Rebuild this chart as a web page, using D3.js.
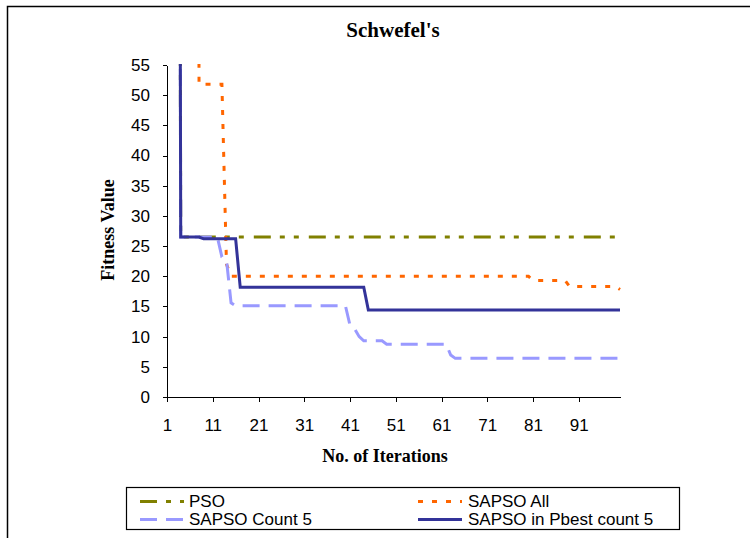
<!DOCTYPE html>
<html>
<head>
<meta charset="utf-8">
<script src="https://cdn.jsdelivr.net/npm/d3@7"></script>
<style>
  body { margin: 0; background: #fff; }
  svg { display: block; }
</style>
</head>
<body>
<div id="chart"></div>
<script>
// Values (350 = off the top of the axis, clipped)
var iterations = d3.range(1, 101);
var xTickLabels = [1, 11, 21, 31, 41, 51, 61, 71, 81, 91];
var yTickLabels = [0, 5, 10, 15, 20, 25, 30, 35, 40, 45, 50, 55];

var pso = [
  350, 350, 350, 26.5, 26.5, 26.5, 26.5, 26.5, 26.5, 26.5,
  26.5, 26.5, 26.5, 26.5, 26.5, 26.5, 26.5, 26.5, 26.5, 26.5,
  26.5, 26.5, 26.5, 26.5, 26.5, 26.5, 26.5, 26.5, 26.5, 26.5,
  26.5, 26.5, 26.5, 26.5, 26.5, 26.5, 26.5, 26.5, 26.5, 26.5,
  26.5, 26.5, 26.5, 26.5, 26.5, 26.5, 26.5, 26.5, 26.5, 26.5,
  26.5, 26.5, 26.5, 26.5, 26.5, 26.5, 26.5, 26.5, 26.5, 26.5,
  26.5, 26.5, 26.5, 26.5, 26.5, 26.5, 26.5, 26.5, 26.5, 26.5,
  26.5, 26.5, 26.5, 26.5, 26.5, 26.5, 26.5, 26.5, 26.5, 26.5,
  26.5, 26.5, 26.5, 26.5, 26.5, 26.5, 26.5, 26.5, 26.5, 26.5,
  26.5, 26.5, 26.5, 26.5, 26.5, 26.5, 26.5, 26.5, 26.5, 26.5
];

var sapsoAll = [
  350, 350, 350, 350, 350, 350, 350, 51.8, 51.8, 51.8,
  51.8, 51.8, 51.8, 22, 20, 20, 20, 20, 20, 20,
  20, 20, 20, 20, 20, 20, 20, 20, 20, 20,
  20, 20, 20, 20, 20, 20, 20, 20, 20, 20,
  20, 20, 20, 20, 20, 20, 20, 20, 20, 20,
  20, 20, 20, 20, 20, 20, 20, 20, 20, 20,
  20, 20, 20, 20, 20, 20, 20, 20, 20, 20,
  20, 20, 20, 20, 20, 20, 20, 20, 20, 20,
  19.3, 19.3, 19.3, 19.3, 19.3, 19.3, 19.3, 19.3, 18.3, 18.3,
  18.3, 18.3, 18.3, 18.3, 18.3, 18.3, 18.3, 18.3, 18.3, 17.8
];

var sapsoCount5 = [
  350, 350, 350, 26.5, 26.5, 26.5, 26.5, 26.5, 26.5, 26.5,
  26.5, 26.5, 23.2, 22.7, 15.6, 15.1, 15.1, 15.1, 15.1, 15.1,
  15.1, 15.1, 15.1, 15.1, 15.1, 15.1, 15.1, 15.1, 15.1, 15.1,
  15.1, 15.1, 15.1, 15.1, 15.1, 15.1, 15.1, 15.1, 15.1, 15.1,
  11.85, 11.3, 10.0, 9.3, 9.3, 9.3, 9.3, 9.3, 8.75, 8.75,
  8.75, 8.75, 8.75, 8.75, 8.75, 8.75, 8.75, 8.75, 8.75, 8.75,
  8.75, 8.75, 6.95, 6.4, 6.4, 6.4, 6.4, 6.4, 6.4, 6.4,
  6.4, 6.4, 6.4, 6.4, 6.4, 6.4, 6.4, 6.4, 6.4, 6.4,
  6.4, 6.4, 6.4, 6.4, 6.4, 6.4, 6.4, 6.4, 6.4, 6.4,
  6.4, 6.4, 6.4, 6.4, 6.4, 6.4, 6.4, 6.4, 6.4, 6.4
];

var sapsoPbest = [
  350, 350, 350, 26.5, 26.5, 26.5, 26.5, 26.5, 26.2, 26.2,
  26.2, 26.2, 26.2, 26.2, 26.2, 26.2, 18.2, 18.2, 18.2, 18.2,
  18.2, 18.2, 18.2, 18.2, 18.2, 18.2, 18.2, 18.2, 18.2, 18.2,
  18.2, 18.2, 18.2, 18.2, 18.2, 18.2, 18.2, 18.2, 18.2, 18.2,
  18.2, 18.2, 18.2, 18.2, 14.4, 14.4, 14.4, 14.4, 14.4, 14.4,
  14.4, 14.4, 14.4, 14.4, 14.4, 14.4, 14.4, 14.4, 14.4, 14.4,
  14.4, 14.4, 14.4, 14.4, 14.4, 14.4, 14.4, 14.4, 14.4, 14.4,
  14.4, 14.4, 14.4, 14.4, 14.4, 14.4, 14.4, 14.4, 14.4, 14.4,
  14.4, 14.4, 14.4, 14.4, 14.4, 14.4, 14.4, 14.4, 14.4, 14.4,
  14.4, 14.4, 14.4, 14.4, 14.4, 14.4, 14.4, 14.4, 14.4, 14.4
];

// series styles, in drawing order (last one on top)
var series = [
  { name: "PSO", values: pso, color: "#808000", dash: "17,9,5,9,5,10" },
  { name: "SAPSO All", values: sapsoAll, color: "#ff6600", dash: "5,9" },
  { name: "SAPSO Count 5", values: sapsoCount5, color: "#9999ff", dash: "17,9" },
  { name: "SAPSO in Pbest count 5", values: sapsoPbest, color: "#333399", dash: null }
];

var width = 750, height = 538;
var plot = { left: 167, right: 620, top: 65, bottom: 397 };

var svg = d3.select("#chart")
  .append("svg")
  .attr("width", width)
  .attr("height", height);

// outer chart frame
svg.append("rect")
  .attr("x", 7.5).attr("y", 6.5)
  .attr("width", 800).attr("height", 600)
  .attr("fill", "none")
  .attr("stroke", "#000")
  .attr("stroke-width", 1.5);

var x = d3.scaleLinear().domain([1, 100]).range([plot.left, plot.right]);
var y = d3.scaleLinear().domain([0, 55]).range([plot.bottom, plot.top]);

// title
svg.append("text")
  .attr("x", 393).attr("y", 37)
  .attr("text-anchor", "middle")
  .style("font-family", "'Liberation Serif', 'Times New Roman', serif")
  .style("font-weight", "bold")
  .style("font-size", "21px")
  .text("Schwefel's");

// axes
var xAxis = svg.append("g")
  .attr("transform", "translate(0," + plot.bottom + ")")
  .call(d3.axisBottom(x).tickValues(xTickLabels).tickSizeInner(5).tickSizeOuter(0).tickPadding(17));

var yAxis = svg.append("g")
  .attr("transform", "translate(" + plot.left + ",0)")
  .call(d3.axisLeft(y).tickValues(yTickLabels).tickSizeInner(4).tickSizeOuter(0).tickPadding(13));

[xAxis, yAxis].forEach(function (g) {
  g.selectAll("path, line").attr("stroke", "#000").attr("shape-rendering", "crispEdges");
  g.selectAll("text")
    .attr("fill", "#000")
    .style("font-family", "'Liberation Sans', Arial, sans-serif")
    .style("font-size", "17px");
});

// axis titles
svg.append("text")
  .attr("x", 385).attr("y", 462)
  .attr("text-anchor", "middle")
  .style("font-family", "'Liberation Serif', 'Times New Roman', serif")
  .style("font-weight", "bold")
  .style("font-size", "18px")
  .text("No. of Iterations");

svg.append("text")
  .attr("transform", "translate(114,230) rotate(-90)")
  .attr("text-anchor", "middle")
  .style("font-family", "'Liberation Serif', 'Times New Roman', serif")
  .style("font-weight", "bold")
  .style("font-size", "18px")
  .text("Fitness Value");

// clip the lines to the plot area (values above 55 run off the top)
svg.append("clipPath").attr("id", "plotClip")
  .append("rect")
  .attr("x", plot.left - 5).attr("y", plot.top - 1)
  .attr("width", plot.right - plot.left + 10)
  .attr("height", plot.bottom - plot.top + 5);

var line = d3.line()
  .x(function (d, i) { return x(iterations[i]); })
  .y(function (d) { return y(d); });

svg.append("g")
  .attr("clip-path", "url(#plotClip)")
  .selectAll("path")
  .data(series)
  .enter()
  .append("path")
  .attr("d", function (s) { return line(s.values); })
  .attr("fill", "none")
  .attr("stroke", function (s) { return s.color; })
  .attr("stroke-width", 3)
  .attr("stroke-dasharray", function (s) { return s.dash; });

// legend
var legend = svg.append("g");
legend.append("rect")
  .attr("x", 126.5).attr("y", 487.5)
  .attr("width", 553).attr("height", 42)
  .attr("fill", "#fff")
  .attr("stroke", "#000")
  .attr("stroke-width", 1.2);

var legendPos = [
  { sx: 140, tx: 189, y: 501.5 },
  { sx: 418, tx: 468, y: 501.5 },
  { sx: 140, tx: 189, y: 519.5 },
  { sx: 418, tx: 468, y: 519.5 }
];

series.forEach(function (s, i) {
  var p = legendPos[i];
  legend.append("line")
    .attr("x1", p.sx).attr("x2", p.sx + 44)
    .attr("y1", p.y).attr("y2", p.y)
    .attr("stroke", s.color)
    .attr("stroke-width", 3)
    .attr("stroke-dasharray", s.dash);
  legend.append("text")
    .attr("x", p.tx).attr("y", p.y + 5.5)
    .style("font-family", "'Liberation Sans', Arial, sans-serif")
    .style("font-size", "17px")
    .text(s.name);
});
</script>
</body>
</html>
